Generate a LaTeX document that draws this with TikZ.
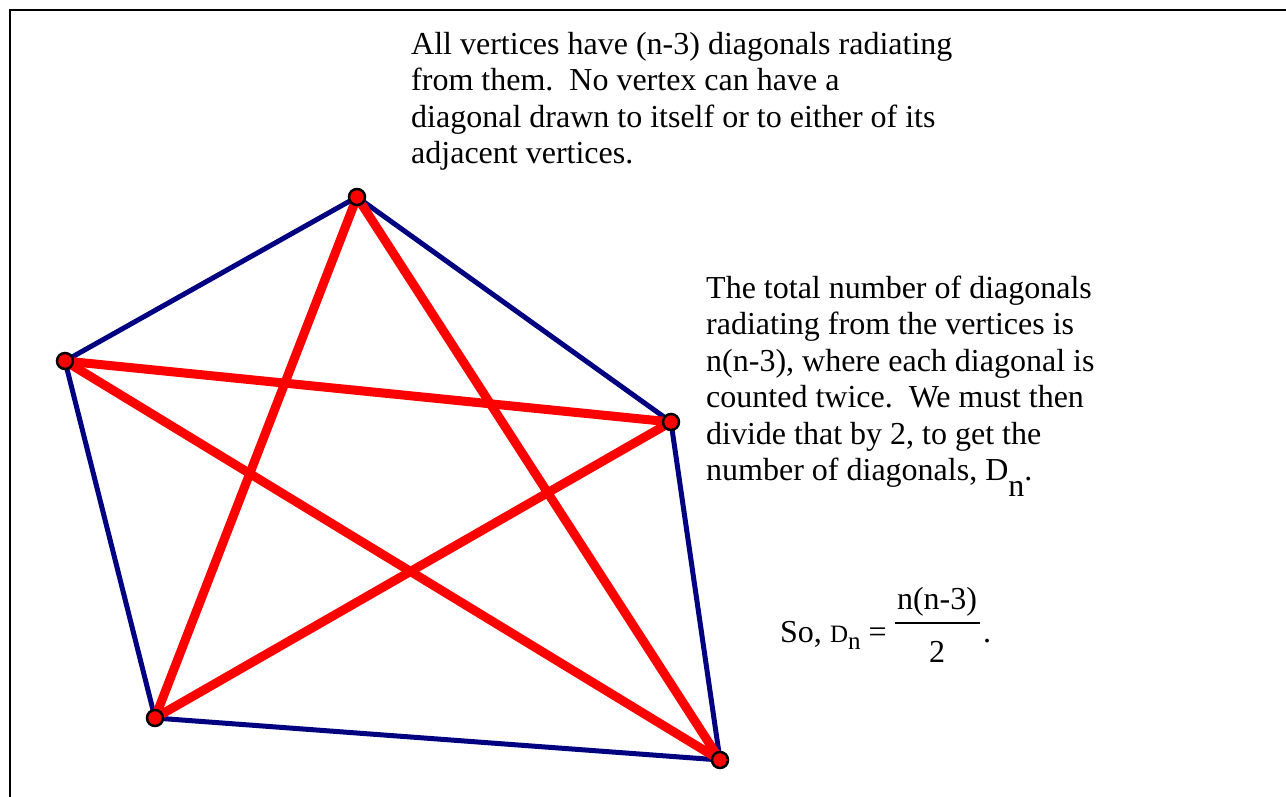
\documentclass[tikz,border=0pt]{standalone}
\usepackage{fontspec}
\setmainfont{Liberation Serif}
\definecolor{edgeblue}{RGB}{0,0,128}
\definecolor{diagred}{RGB}{255,0,0}
\begin{document}
\begin{tikzpicture}[x=1pt,y=-1pt,
  txt/.style={anchor=base west,inner sep=0pt,font=\fontsize{32}{37}\selectfont},
  side/.style={draw=edgeblue,line width=5pt},
  diag/.style={draw=diagred,line width=9pt},
  vert/.style={circle,fill=diagred,draw=black,line width=2.5pt,minimum size=16pt,inner sep=0pt}]
\useasboundingbox (0,0) rectangle (1286,797);
\fill[white] (0,0) rectangle (1286,797);
\draw[line width=2pt,black] (9.5,797) -- (9.5,10) -- (1286,10);
% vertex positions
\coordinate (pA) at (357,197);
\coordinate (pB) at (65,361);
\coordinate (pC) at (671,422);
\coordinate (pD) at (155,718);
\coordinate (pE) at (720,760);
% sides
\draw[side] (pA) -- (pB);
\draw[side] (pA) -- (pC);
\draw[side] (pC) -- (pE);
\draw[side] (pE) -- (pD);
\draw[side] (pD) -- (pB);
% diagonals
\draw[diag] (pA) -- (pD);
\draw[diag] (pA) -- (pE);
\draw[diag] (pB) -- (pC);
\draw[diag] (pB) -- (pE);
\draw[diag] (pC) -- (pD);
% vertices
\node[vert] (A) at (pA) {};
\node[vert] (B) at (pB) {};
\node[vert] (C) at (pC) {};
\node[vert] (D) at (pD) {};
\node[vert] (E) at (pE) {};
% text block 1
\node[txt] (t1) at (411,55) {All vertices have (n-3) diagonals radiating};
\node[txt] (t2) at (411,91) {from them.\ \ No vertex can have a};
\node[txt] (t3) at (411,128) {diagonal drawn to itself or to either of its};
\node[txt] (t4) at (411,164) {adjacent vertices.};
% text block 2
\node[txt] (u1) at (706,298) {The total number of diagonals};
\node[txt] (u2) at (706,334) {radiating from the vertices is};
\node[txt] (u3) at (706,371) {n(n-3), where each diagonal is};
\node[txt] (u4) at (706,407) {counted twice.\ \ We must then};
\node[txt] (u5) at (706,444) {divide that by 2, to get the};
\node[txt] (u6) at (706,480) {number of diagonals, D\raisebox{-0.5em}{n}.};
% formula
\node[txt] (f1) at (780,642) {So, {\fontsize{25}{25}\selectfont D\raisebox{-0.3em}{n}} =};
\node[txt,anchor=base] (fnum) at (937,609) {n(n-3)};
\node[txt,anchor=base] (fden) at (937,662) {2};
\draw[line width=2pt] (895,623) -- (980,623);
\node[txt] (fdot) at (983,642) {.};
\end{tikzpicture}
\end{document}
